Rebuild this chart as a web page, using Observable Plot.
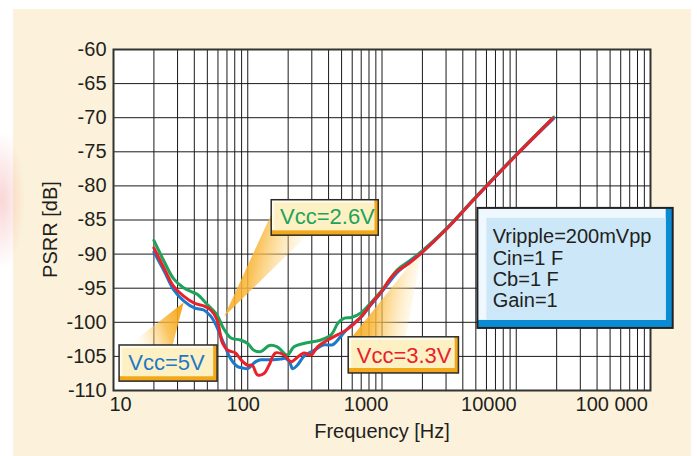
<!DOCTYPE html>
<html><head><meta charset="utf-8">
<script src="https://cdn.jsdelivr.net/npm/d3@7"></script>
<script src="https://cdn.jsdelivr.net/npm/@observablehq/plot@0.6"></script>
<style>
html,body{margin:0;padding:0;background:#fff;width:697px;height:456px;overflow:hidden;}
#panel{position:absolute;left:13px;top:9px;width:678px;height:447px;background:#fcf2db;}
#glow{position:absolute;left:-22px;top:130px;width:48px;height:140px;background:radial-gradient(ellipse at center, rgba(236,120,120,0.30), rgba(236,120,120,0) 70%);}
</style></head><body>
<div id="panel"></div><div id="glow"></div>
<script>
// ---------- data ----------
const seriesNames = ["Vcc=2.6V", "Vcc=5V", "Vcc=3.3V"];
const seriesColors = ["#1ea35a", "#1d78c9", "#e8212a"];

const freq26 = [20, 24, 28, 33, 38, 42, 50, 59, 66, 75, 88, 100, 111, 125, 145, 166, 197, 221, 262, 350, 420, 470, 525, 590, 700, 830, 1000, 1300, 1600, 2000, 3000, 5000, 10000, 19000];
const psrr26 = [-88.0, -91.2, -93.6, -94.9, -95.5, -95.9, -97.4, -98.9, -100.9, -102.3, -102.6, -103.1, -104.1, -104.3, -103.4, -103.6, -104.8, -103.6, -103.1, -102.6, -101.8, -100.1, -99.4, -99.3, -98.6, -97.1, -95.3, -92.3, -91.0, -89.5, -86.3, -81.6, -75.4, -69.9];

const freq5 = [20, 24, 28, 33.5, 40, 47, 53, 58, 63, 68, 72, 78, 84, 92, 100, 114, 125, 144, 157, 175, 192, 205, 216, 234, 262, 312, 370, 428, 492, 555, 700, 830, 1000, 1300, 1600, 2000, 3000, 5000, 10000, 19000];
const psrr5 = [-89.7, -92.6, -95.2, -96.9, -97.9, -98.2, -99.1, -100.4, -102.1, -103.6, -104.8, -105.9, -106.5, -106.7, -106.8, -105.8, -105.5, -105.5, -105.5, -105.4, -105.3, -105.8, -106.8, -106.3, -105.0, -104.1, -103.3, -103.3, -102.1, -100.9, -99.2, -97.4, -95.5, -92.7, -91.2, -89.7, -86.4, -81.7, -75.5, -70.1];

const freq33 = [20, 24, 28, 33.5, 40, 47, 53, 59, 65, 71, 81, 89, 100, 108, 118, 132, 144, 161, 187, 210, 229, 262, 296, 331, 394, 469, 555, 700, 830, 1000, 1160, 1300, 1600, 2000, 3000, 5000, 10000, 18700];
const psrr33 = [-89.1, -92.2, -94.7, -96.2, -97.2, -97.6, -98.2, -99.6, -103.1, -104.1, -104.5, -105.5, -106.3, -106.3, -107.7, -107.5, -106.3, -104.5, -104.8, -105.8, -105.3, -104.5, -104.8, -103.6, -102.6, -101.8, -101.0, -99.2, -97.3, -95.4, -93.5, -92.5, -91.3, -89.7, -86.4, -81.7, -75.5, -70.1];

const yTicks = [-60, -65, -70, -75, -80, -85, -90, -95, -100, -105, -110];
const xTickValues = [10, 100, 1000, 10000, 100000];
const xTickLabels = ["10", "100", "1000", "10000", "100 000"];
const xTitle = "Frequency [Hz]";
const yTitle = "PSRR [dB]";
const infoLines = ["Vripple=200mVpp", "Cin=1 F", "Cb=1 F", "Gain=1"];

// ---------- annotation geometry (data units) ----------
const callouts = [
  {label: "Vcc=2.6V", x1: 150.8, x2: 946, y1: -82.1, y2: -87.3, tx: 392, ty: -84.6},
  {label: "Vcc=5V", x1: 11.1, x2: 59.6, y1: -103.4, y2: -108.7, tx: 24.8, ty: -106.0},
  {label: "Vcc=3.3V", x1: 565, x2: 3741, y1: -102.2, y2: -107.5, tx: 1462, ty: -104.9}
];
const wedges = [
  {id: "w26", pts: [{x: 66.7, y: -99.15}, {x: 150.8, y: -84.05}, {x: 275, y: -87.3}]},
  {id: "w5", pts: [{x: 33.3, y: -97.1}, {x: 12.9, y: -103.4}, {x: 27.5, y: -103.4}]},
  {id: "w33", pts: [{x: 1997, y: -89.3}, {x: 595, y: -102.2}, {x: 1503, y: -102.2}]}
];
const infoBox = [{x1: 5180, x2: 147600, y1: -83.3, y2: -100.9}];
const infoAnchor = {x: 6670, y: -92.1};

// ---------- build table ----------
const rows = [];
[[freq26, psrr26], [freq5, psrr5], [freq33, psrr33]].forEach(([fs, ds], i) => {
  fs.forEach((f, j) => rows.push({series: seriesNames[i], f, db: ds[j]}));
});

const gridFreqs = [10, 100, 1000, 10000].flatMap(d => d3.range(1, 10).map(k => k * d)).filter(f => f > 10 && f < 100000);
const yGrid = yTicks.filter(v => v > -110 && v < -60);

const W = 678, H = 447, mL = 100, mR = 41, mT = 40, mB = 66;
const decadePx = (W - mL - mR) / 4;
const labelPitch = 122.8;
const ink = "#231f20";

const rectCh = {x1: "x1", x2: "x2", y1: "y1", y2: "y2"};

const plot = Plot.plot({
  width: W, height: H,
  marginLeft: mL, marginRight: mR, marginTop: mT, marginBottom: mB,
  x: {type: "log", domain: [10, 100000], axis: null},
  y: {domain: [-110, -60], axis: null},
  color: {domain: seriesNames, range: seriesColors},
  style: {background: "transparent", fontFamily: "'Liberation Sans', Arial, sans-serif", color: ink, overflow: "visible"},
  marks: [
    Plot.frame({fill: "white", stroke: "none"}),
    Plot.ruleX(gridFreqs, {x: d => d, stroke: "#1a1a1a", strokeWidth: 1}),
    Plot.ruleY(yGrid, {y: d => d, stroke: "#1a1a1a", strokeWidth: 1}),
    Plot.frame({stroke: "#333", strokeWidth: 2}),
    ...wedges.map(w => Plot.line(w.pts, {x: "x", y: "y", fill: `url(#${w.id})`, stroke: "none"})),
    Plot.line(rows, {x: "f", y: "db", z: "series", stroke: "series", strokeWidth: 3, curve: "catmull-rom"}),
    // callout boxes
    Plot.rect(callouts, {...rectCh, fill: "#f2a81a"}),
    Plot.rect(callouts, {...rectCh, fill: "#fffbea", insetRight: 4, insetBottom: 5}),
    Plot.rect(callouts, {...rectCh, fill: "#fdf1c4", insetLeft: 3, insetTop: 3, insetRight: 4, insetBottom: 5}),
    Plot.rect(callouts, {...rectCh, fill: "none", stroke: "#2a2a2a", strokeWidth: 1.5}),
    Plot.text(callouts, {x: "tx", y: "ty", text: "label", fill: "label", fontSize: 22}),
    // info box
    Plot.rect(infoBox, {...rectCh, fill: "#0a8cd4"}),
    Plot.rect(infoBox, {...rectCh, fill: "#eef8fe", insetRight: 7, insetBottom: 8}),
    Plot.rect(infoBox, {...rectCh, fill: "#cbe7f8", insetLeft: 9, insetTop: 10, insetRight: 7, insetBottom: 8}),
    Plot.rect(infoBox, {...rectCh, fill: "none", stroke: "#222", strokeWidth: 2}),
    Plot.text([infoLines.join("\n")], {x: () => infoAnchor.x, y: () => infoAnchor.y, text: d => d, textAnchor: "start", lineHeight: 1.065, fontSize: 20, fill: ink}),
    // axes
    Plot.text(yTicks, {x: () => 10, y: d => d, text: d => String(d), textAnchor: "end", dx: -7, fontSize: 20, fill: ink}),
    ...xTickValues.map((v, i) => Plot.text([v], {x: d => d, y: () => -110, dy: 14, text: () => xTickLabels[i], dx: 7 + i * (labelPitch - decadePx), fontSize: 20, fill: ink})),
    Plot.text([xTitle], {x: () => 1000, y: () => -110, dy: 41, text: d => d, fontSize: 20, fill: ink}),
    Plot.text([yTitle], {x: () => 10, y: () => -86.4, dx: -63, rotate: -90, text: d => d, fontSize: 20, fill: ink})
  ]
});

document.getElementById("panel").appendChild(plot);
const svgEl = plot.tagName.toLowerCase() === "svg" ? plot : plot.querySelector("svg");
d3.select(svgEl).insert("defs", ":first-child").html(`
  <linearGradient id="w26" x1="0" y1="0" x2="1" y2="0.3">
    <stop offset="0" stop-color="#f6a010" stop-opacity="1"/>
    <stop offset="0.45" stop-color="#f9b638" stop-opacity="0.85"/>
    <stop offset="1" stop-color="#fde3a0" stop-opacity="0.1"/>
  </linearGradient>
  <linearGradient id="w5" x1="1" y1="0" x2="0" y2="0.3">
    <stop offset="0" stop-color="#f6a010" stop-opacity="1"/>
    <stop offset="0.45" stop-color="#f9b638" stop-opacity="0.8"/>
    <stop offset="1" stop-color="#fde3a0" stop-opacity="0.1"/>
  </linearGradient>
  <linearGradient id="w33" x1="0" y1="0" x2="1" y2="0.2">
    <stop offset="0" stop-color="#f6a010" stop-opacity="1"/>
    <stop offset="0.45" stop-color="#f9b638" stop-opacity="0.85"/>
    <stop offset="1" stop-color="#fde3a0" stop-opacity="0.1"/>
  </linearGradient>`);
</script>
</body></html>
